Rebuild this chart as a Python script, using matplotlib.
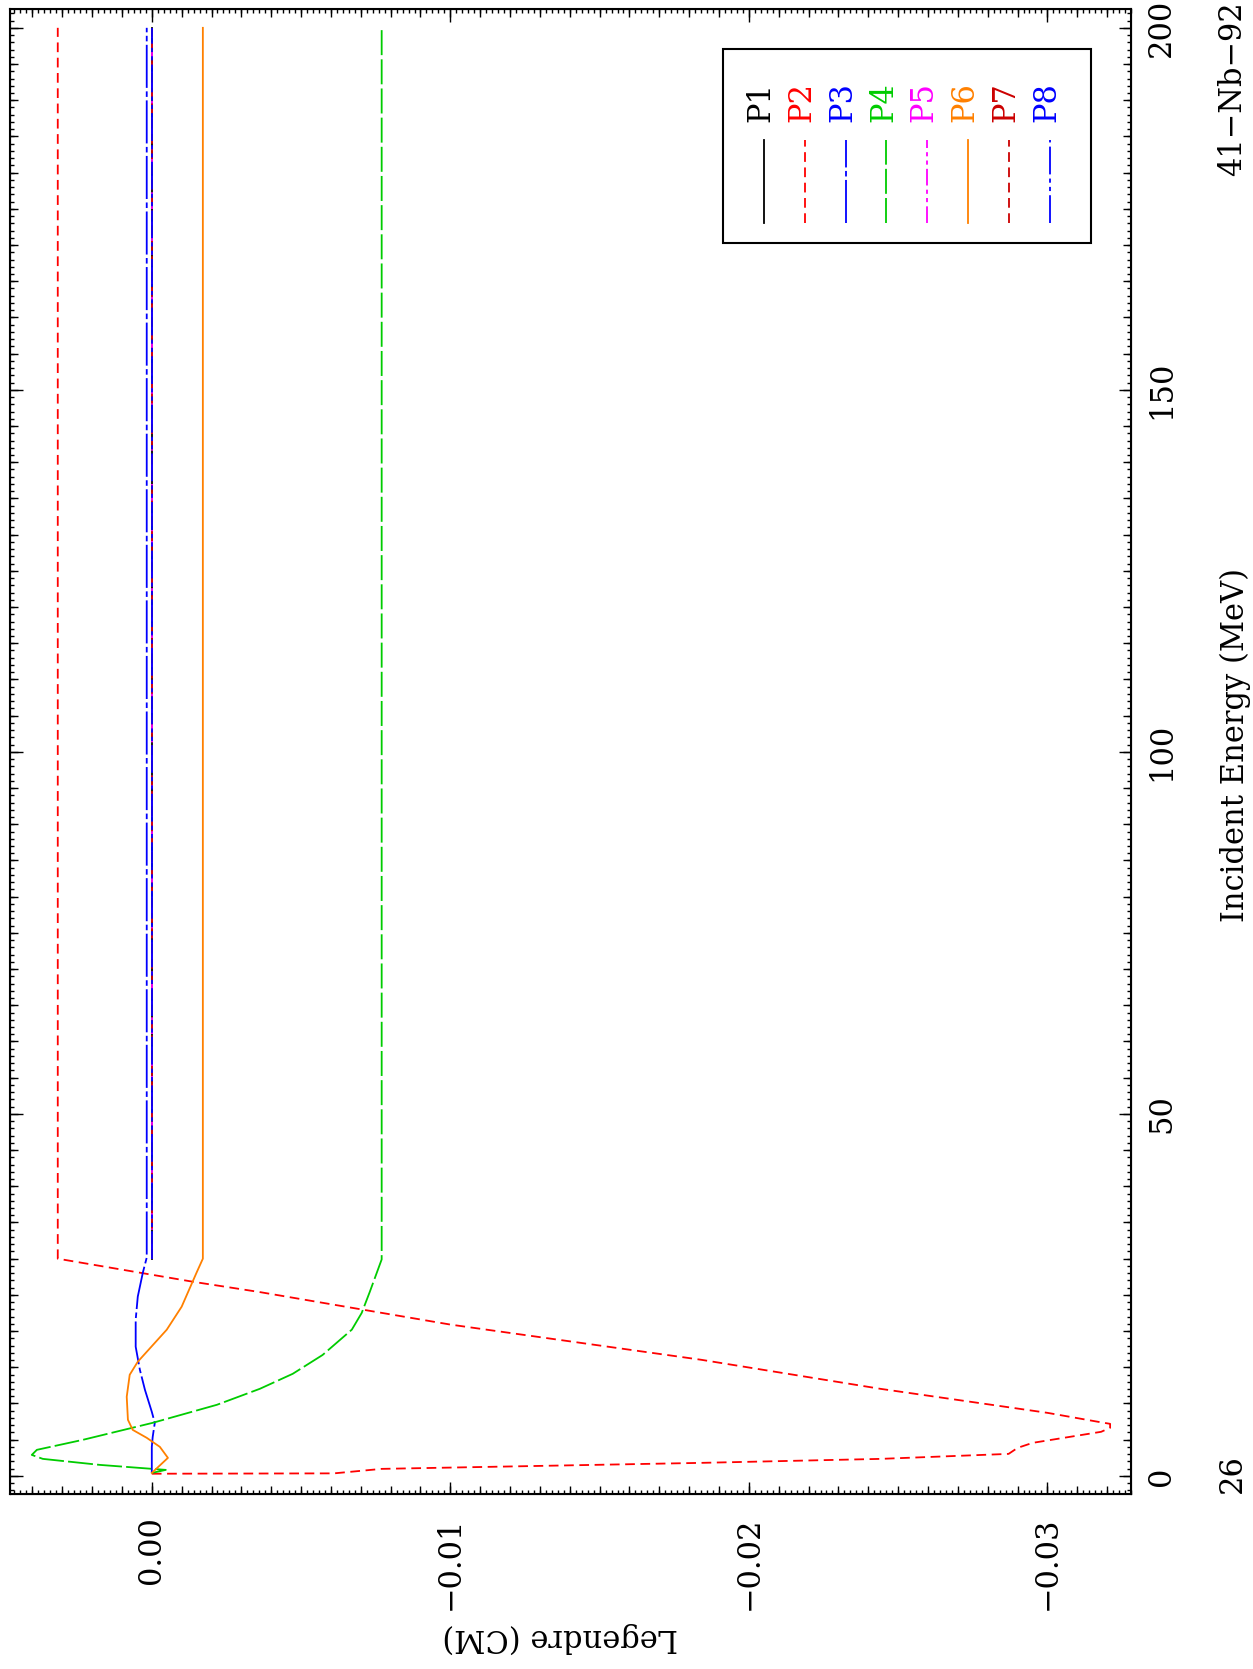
import matplotlib
matplotlib.use("Agg")
import matplotlib.pyplot as plt
from matplotlib.ticker import MultipleLocator, FuncFormatter
from matplotlib.patches import Rectangle

plt.rcParams['font.family'] = ['DejaVu Serif']
plt.rcParams['lines.scale_dashes'] = False
fontsize = 22

# ---- data (energy in MeV, Legendre coefficient) ----
names = ["P1", "P2", "P3", "P4", "P5", "P6", "P7", "P8"]
colors = ["black", "#ff0000", "#0000ff", "#00cc00", "#ff00ff", "#ff8000", "#cc0000", "#0000ff"]
styles = ["-", (0, (7, 4)), (0, (31, 2.5, 4, 2.5)), (0, (18, 3)),
          (0, (12, 3, 3, 3, 3, 3)), "-", (0, (7, 4)), (0, (20, 3, 3, 3, 3, 3))]

e_p1 = [30.0, 200.0]
v_p1 = [0.0, 0.0]

e_p2 = [0.3, 0.35, 0.97, 1.8, 2.35, 3.04, 3.87, 4.56, 6.09, 6.64, 7.19, 7.47,
        8.71, 12.03, 16.04, 20.9, 25.4, 26.8, 30.0, 200.0]
v_p2 = [0.0, -0.0061, -0.0077, -0.0184, -0.0244, -0.0287, -0.0290, -0.0295,
        -0.0318, -0.0321, -0.0321, -0.0317, -0.0300, -0.0244, -0.0184, -0.0100,
        -0.0036, -0.0014, 0.00315, 0.00315]

e_p3 = [0.4, 4.01, 5.39, 7.33, 8.85, 11.89, 14.66, 17.84, 21.58, 24.76, 28.08, 30.15, 200.0]
v_p3 = [0.0, 0.0, -0.00003, -0.0001, 0.0, 0.00023, 0.0004, 0.00054, 0.00054,
        0.00047, 0.0003, 0.00017, 0.00017]

e_p4 = [0.41, 0.83, 1.52, 2.35, 2.90, 3.60, 4.98, 7.33, 9.82, 12.03, 14.1, 16.7,
        20.2, 22.5, 25.4, 29.9, 200.0]
v_p4 = [0.0, -0.00047, 0.00174, 0.00365, 0.00402, 0.00385, 0.00231, -0.00003,
        -0.00218, -0.00362, -0.00472, -0.00572, -0.0067, -0.00703, -0.0073,
        -0.0077, -0.0077]

e_p5 = [30.0, 200.0]
v_p5 = [0.0, 0.0]

e_p6 = [0.41, 2.49, 4.01, 5.26, 6.36, 7.75, 10.93, 13.97, 15.77, 20.19, 23.37, 28.08, 30.0, 200.0]
v_p6 = [0.0, -0.00054, -0.00027, 0.00017, 0.00064, 0.0008, 0.00084, 0.00074,
        0.00047, -0.0005, -0.001, -0.0015, -0.00171, -0.00171]

e_p7 = [30.0, 200.0]
v_p7 = [0.0, 0.0]

e_p8 = [30.0, 200.0]
v_p8 = [0.0, 0.0]

energies = [e_p1, e_p2, e_p3, e_p4, e_p5, e_p6, e_p7, e_p8]
values = [v_p1, v_p2, v_p3, v_p4, v_p5, v_p6, v_p7, v_p8]

W, H = 1253, 1669
fig = plt.figure(figsize=(W / 100, H / 100), dpi=100)
ax_l, ax_r, ax_t, ax_b = 10, 1131, 9, 1494
ax = fig.add_axes([ax_l / W, (H - ax_b) / H, (ax_r - ax_l) / W, (ax_b - ax_t) / H])

# plotted rotated: Legendre on horizontal (reversed), energy on vertical
for e, v, c, s in zip(energies, values, colors, styles):
    ax.plot(v, e, color=c, linestyle=s, lw=1.3)

ax.set_xlim(0.00475, -0.0328)
ax.set_ylim(-2.5, 202.6)


def leg_fmt(x, pos):
    if abs(x) < 1e-9:
        return "0.00"
    return ("%.2f" % x).replace("-", "\u2212")


ax.xaxis.set_major_locator(MultipleLocator(0.01))
ax.xaxis.set_minor_locator(MultipleLocator(0.0002))
ax.xaxis.set_major_formatter(FuncFormatter(leg_fmt))
ax.yaxis.set_major_locator(MultipleLocator(50))
ax.yaxis.set_minor_locator(MultipleLocator(1))
ax.yaxis.tick_right()
ax.tick_params(which="both", direction="in", top=True, bottom=True, left=True, right=True, width=1.0)
ax.tick_params(which="major", length=9)
ax.tick_params(which="minor", length=3)
ax.tick_params(axis="x", which="major", labelsize=fontsize, labelrotation=90, pad=16)
ax.tick_params(axis="y", which="major", labelsize=fontsize, labelrotation=90, pad=11,
               labelleft=False, labelright=True)
for lab in ax.get_yticklabels():
    lab.set_va("center")
for sp in ax.spines.values():
    sp.set_linewidth(1.5)

# medium ticks every 0.001 / 5 MeV
ident = (lambda x: x, lambda x: x)
for loc in ["top", "bottom"]:
    sec = ax.secondary_xaxis(loc, functions=ident)
    sec.xaxis.set_major_locator(MultipleLocator(0.001))
    sec.tick_params(direction="in", length=5.5, width=1.0, labelbottom=False, labeltop=False)
for loc in ["left", "right"]:
    sec = ax.secondary_yaxis(loc, functions=ident)
    sec.yaxis.set_major_locator(MultipleLocator(5))
    sec.tick_params(direction="in", length=5.5, width=1.0, labelleft=False, labelright=False)


def px(x, y):
    return ((x - ax_l) / (ax_r - ax_l), (ax_b - y) / (ax_b - ax_t))


# legend box drawn in the rotated orientation
x0, y0 = px(723, 243)
x1, y1 = px(1091, 49)
ax.add_patch(Rectangle((x0, y0), x1 - x0, y1 - y0, transform=ax.transAxes,
                       fill=False, edgecolor="black", lw=1.5, zorder=5))
for i, (n, c, s) in enumerate(zip(names, colors, styles)):
    lx = 764 + 40.8 * i
    a, b_top = px(lx, 140)
    _, b_bot = px(lx, 223)
    ax.plot([a, a], [b_bot, b_top], transform=ax.transAxes, color=c, linestyle=s, lw=1.3)
    tx, ty = px(lx - 3, 122)
    ax.text(tx, ty, n, transform=ax.transAxes, rotation=90, ha="center", va="bottom",
            color=c, fontsize=fontsize)

fig.text(1235 / W, 1 - 745 / H, "Incident Energy (MeV)", rotation=90, ha="center",
         va="center", fontsize=fontsize)
fig.text(560 / W, 1 - 1638 / H, "Legendre (CM)", rotation=180, ha="center",
         va="center", fontsize=fontsize)
fig.text(1233 / W, 1 - 89 / H, "41\u2212Nb\u221292", rotation=90, ha="center",
         va="center", fontsize=fontsize)
fig.text(1232 / W, 1 - 1474 / H, "26", rotation=90, ha="center", va="center",
         fontsize=fontsize)

fig.savefig("out.png", dpi=100)
